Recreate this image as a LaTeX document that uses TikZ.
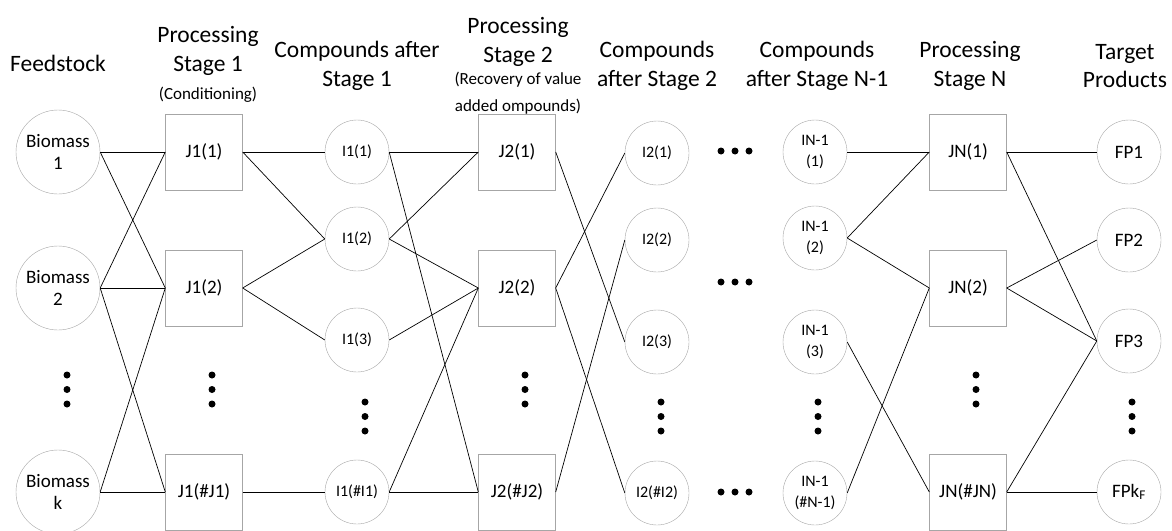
\documentclass[tikz,border=0pt]{standalone}
\usepackage{fontspec}
\setmainfont{Carlito}
\usepackage{tikz}

\begin{document}
\begin{tikzpicture}[x=1pt, y=-1pt,
  feed/.style={circle, draw=black!35, minimum size=84pt, inner sep=0pt, align=center, font=\fontsize{19}{22}\selectfont},
  compound/.style={circle, draw=black!35, minimum size=64pt, inner sep=0pt, align=center, font=\fontsize{16}{21}\selectfont},
  product/.style={compound, font=\fontsize{19}{22}\selectfont},
  unit/.style={rectangle, draw=black!35, minimum width=77pt, minimum height=76pt, inner sep=0pt, font=\fontsize{19}{22}\selectfont},
  head/.style={align=center, inner sep=0pt, font=\fontsize{23.5}{28.5}\selectfont},
  note/.style={align=center, inner sep=0pt, font=\fontsize{17}{27}\selectfont},
  link/.style={draw=black, line width=0.7pt}]

\useasboundingbox (0,0) rectangle (1172,530);

% column titles
\path
(58,63) node [head] (hfeed) {Feedstock}
(208,51) node [head] (hstage1) {Processing\\Stage 1}
(208,95) node [note] (hcond) {(Conditioning)}
(357,66) node [head] (hcomp1) {Compounds after\\Stage 1}
(518,42) node [head] (hstage2) {Processing\\Stage 2}
(518,93) node [note] (hrecov) {(Recovery of value\\added ompounds)}
(657,66) node [head] (hcomp2) {Compounds\\after Stage 2}
(817,66) node [head] (hcompn) {Compounds\\after Stage N-1}
(970,66) node [head] (hstagen) {Processing\\Stage N}
(1125,66) node [head] (htarget) {Target\\Products};

% feedstock
\path
(58,152) node [feed] (bm1) {Biomass\\1}
(58,288) node [feed] (bm2) {Biomass\\2}
(58,492) node [feed] (bmk) {Biomass\\k};

% stage 1 units and compounds
\path
(204,152) node [unit] (ja1) {J1(1)}
(204,288) node [unit] (ja2) {J1(2)}
(204,492) node [unit] (jan) {J1(\#J1)}
(357,152) node [compound] (ia1) {I1(1)}
(357,239) node [compound] (ia2) {I1(2)}
(357,340) node [compound] (ia3) {I1(3)}
(357,492) node [compound] (ian) {I1(\#I1)};

% stage 2 units and compounds
\path
(517,152) node [unit] (jb1) {J2(1)}
(517,288) node [unit] (jb2) {J2(2)}
(517,492) node [unit] (jbn) {J2(\#J2)}
(657,153) node [compound] (ib1) {I2(1)}
(657,240) node [compound] (ib2) {I2(2)}
(657,342) node [compound] (ib3) {I2(3)}
(657,493) node [compound] (ibn) {I2(\#I2)};

% stage N-1 compounds, stage N units, products
\path
(815,152) node [compound] (ic1) {IN-1\\(1)}
(815,238) node [compound] (ic2) {IN-1\\(2)}
(815,342) node [compound] (ic3) {IN-1\\(3)}
(815,493) node [compound] (icn) {IN-1\\(\#N-1)}
(968,152) node [unit] (jc1) {JN(1)}
(968,288) node [unit] (jc2) {JN(2)}
(968,492) node [unit] (jcn) {JN(\#JN)}
(1129,152) node [product] (fp1) {FP1}
(1129,240) node [product] (fp2) {FP2}
(1129,341) node [product] (fp3) {FP3}
(1129,492) node [product] (fpk) {FPk\textsubscript{F}};

%% connections
\foreach \a/\b in {bm1/ja1, bm1/ja2, bm2/ja1, bm2/ja2, bm2/jan, bmk/ja2, bmk/jan,
                   ja1/ia1, ja1/ia2, ja2/ia2, ja2/ia3, jan/ian,
                   ia1/jb1, ia1/jbn, ia2/jb1, ia2/jb2, ia3/jb2, ian/jb2, ian/jbn,
                   jb1/ib3, jb2/ib1, jb2/ibn, jbn/ib2,
                   ic1/jc1, ic2/jc1, ic2/jc2, ic3/jcn, icn/jc2,
                   jc1/fp1, jc1/fp3, jc2/fp2, jc2/fp3, jcn/fp3, jcn/fpk}
  \draw[link] (\a.east) -- (\b.west);

%% vertical dots
\foreach \x/\y in {67/375, 212/375, 525/375, 976/375, 365/402, 661/402, 818/402, 1132/402}
  \foreach \k in {0,1,2}
    \fill (\x,\y+14.5*\k) circle [radius=3.5pt];

%% horizontal dots
\foreach \y in {151, 282, 492}
  \foreach \x in {721, 735, 749}
    \fill (\x,\y) circle [radius=3.5pt];

\end{tikzpicture}
\end{document}
